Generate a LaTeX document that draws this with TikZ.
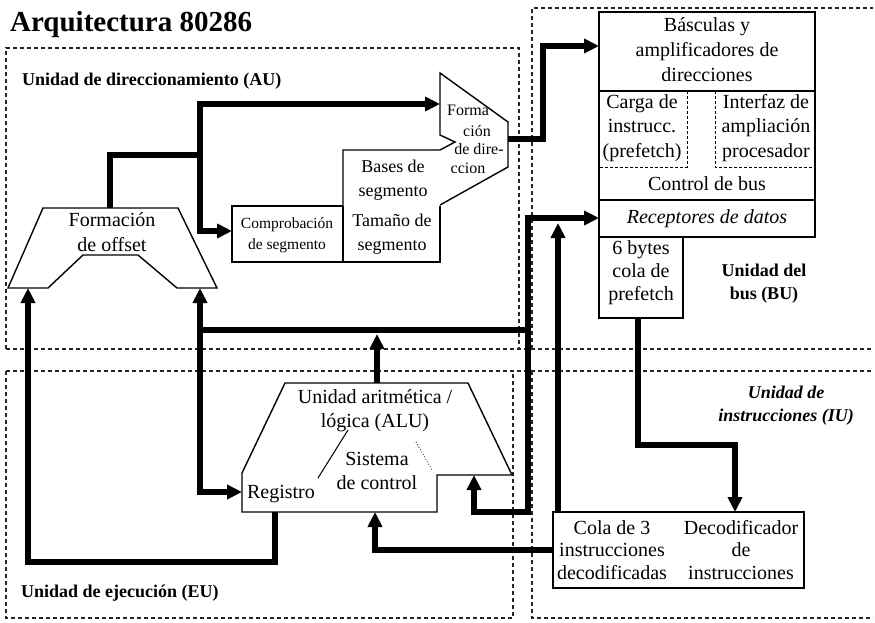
\documentclass[tikz,border=0pt]{standalone}
\usepackage{fontspec}
\setmainfont{Liberation Serif}
\usetikzlibrary{arrows.meta}
\begin{document}
\begin{tikzpicture}[x=1pt,y=-1pt,
  bus/.style={line width=5.5pt, line join=miter},
  tip/.style={-{Triangle[length=15pt,width=14pt]}},
  frame/.style={line width=1.1pt, dash pattern=on 4pt off 3pt, black!85},
  box/.style={line width=1.4pt},
  inner/.style={line width=1pt, dash pattern=on 3pt off 2pt},
  t20/.style={font=\fontsize{20}{25}\selectfont, align=center, inner sep=0pt},
  t18/.style={font=\fontsize{18}{24}\selectfont, align=center, inner sep=0pt},
  t16/.style={font=\fontsize{16}{19}\selectfont, align=center, inner sep=0pt},
  lbl/.style={font=\fontsize{18}{23}\selectfont\bfseries, align=center, inner sep=0pt}]
\useasboundingbox (0,0) rectangle (875,623);
\fill[white] (0,0) rectangle (875,623);

% ---- unit frames (dashed)
\draw[frame] (6,349) -- (6,48) -- (519,48) -- (519,349);
\draw[frame] (6,349) -- (873,349);
\draw[frame] (6,371) -- (873,371);
\draw[frame] (532,349) -- (532,8) -- (873,8);
\draw[frame] (6,371) -- (6,618) -- (513,618) -- (513,371);
\draw[frame] (532,371) -- (532,618) -- (873,618);

% ---- title and unit labels
\node[anchor=base west, inner sep=0pt, font=\fontsize{29}{34}\selectfont\bfseries] (title) at (10,32) {Arquitectura 80286};
\node[lbl, anchor=base west] (auL) at (22,86) {Unidad de direccionamiento (AU)};
\node[lbl, anchor=base west] (euL) at (21,597) {Unidad de ejecución (EU)};
\node[lbl] (buL) at (764,284) {Unidad del\\bus (BU)};
\node[lbl, font=\fontsize{18}{23}\selectfont\bfseries\itshape] (iuL) at (786,406) {Unidad de\\instrucciones (IU)};

% ---- Formacion de offset
\draw[box, fill=white] (43,208) -- (178,208) -- (217,288) -- (177,288) -- (138,255)
  -- (83,255) -- (48,288) -- (8,288) -- cycle;
\node[t20] (offT) at (112,232) {Formación\\de offset};

% ---- Formacion de direccion + bases de segmento
\fill[white] (343,205) -- (343,150) -- (440,150) -- (455,142) -- (440,135) -- (440,73)
  -- (508,122) -- (508,167) -- (440,205) -- cycle;
\draw[box] (343,262) -- (343,150) -- (440,150) -- (455,142) -- (440,135) -- (440,73)
  -- (508,122) -- (508,167) -- (440,205);
\draw[inner] (343,206) -- (440,206);
\draw[box, fill=white] (343,206) -- (232,206) -- (232,262) -- (440,262) -- (440,206);
\draw[box] (343,206) -- (343,262);
\node[t16] (dirA) at (468,110) {Forma};
\node[t16] (dirB) at (477,131) {ción};
\node[t16] (dirC) at (479,149) {de dire-};
\node[t16] (dirD) at (468,168) {ccion};
\node[t18] (basT) at (393,180) {Bases de\\segmento};
\node[t18] (tamT) at (392,234) {Tamaño de\\segmento};
\node[font=\fontsize{15.5}{21}\selectfont, align=center, inner sep=0pt] (comT) at (287,235) {Comprobación\\de segmento};

% ---- Bus unit
\draw[box, fill=white] (599,12) rectangle (815,237);
\draw[box] (599,91) -- (815,91);
\draw[line width=2pt] (599,200) -- (815,200);
\draw[inner] (687,91) -- (687,167) -- (599,167);
\draw[inner] (715,91) -- (715,167) -- (815,167);
\draw[box, fill=white] (599,237) rectangle (683,318);
\node[t20] (basc) at (707,50) {Básculas y\\amplificadores de\\direcciones};
\node[t20, font=\fontsize{20}{24.5}\selectfont] (carga) at (642,128) {Carga de\\instrucc.\\(prefetch)};
\node[t20, font=\fontsize{20}{24.5}\selectfont] (intf) at (766,128) {Interfaz de\\ampliación\\procesador};
\node[t20] (ctrl) at (707,184) {Control de bus};
\node[t20, font=\fontsize{20}{25}\selectfont\itshape] (recep) at (707,219) {Receptores de datos};
\node[t20, font=\fontsize{20}{23}\selectfont] (pref) at (641,273) {6 bytes\\cola de\\prefetch};

% ---- Instruction unit box
\draw[box, fill=white] (553,512) rectangle (804,588);
\node[t20, font=\fontsize{20}{22.5}\selectfont] (cola) at (612,550) {Cola de 3\\instrucciones\\decodificadas};
\node[t20, font=\fontsize{20}{22.5}\selectfont] (deco) at (741,550) {Decodificador\\de\\instrucciones};

% ---- ALU
\draw[box, fill=white] (285,383) -- (468,383) -- (512,475) -- (437,475) -- (437,512)
  -- (242,512) -- (242,473) -- cycle;
\draw[line width=1pt] (318,478) -- (348,430);
\draw[line width=0.8pt, dotted] (416,442) -- (432,470);
\node[t20, font=\fontsize{20}{24}\selectfont] (alu) at (375,411) {Unidad aritmética /\\lógica (ALU)};
\node[t20, font=\fontsize{20}{24}\selectfont] (sis) at (377,471) {Sistema\\de control};
\node[t20] (reg) at (281,494) {Registro};

% ---- anchor points
\coordinate (offTop) at (110,208);
\coordinate (offB1) at (28,288);
\coordinate (offB2) at (200,288);
\coordinate (dirL) at (440,104);
\coordinate (dirR) at (508,139);
\coordinate (compL) at (232,231);
\coordinate (bascL) at (599,46);
\coordinate (recL) at (599,218);
\coordinate (pfB) at (638,318);
\coordinate (decT) at (735,512);
\coordinate (colaT) at (558,512);
\coordinate (colaL) at (553,550);
\coordinate (aluT) at (377,383);
\coordinate (aluB) at (375,512);
\coordinate (aluN) at (474,475);
\coordinate (regW) at (242,492);
\coordinate (regB) at (275,512);
\coordinate (j1) at (528,330);
\coordinate (j2) at (200,330);
\coordinate (j3) at (200,155);

% ---- connectors
\draw[bus] (offTop) |- (j3);
\draw[bus,tip] (j3) |- (dirL);
\draw[bus,tip] (j3) |- (compL);
\draw[bus,tip] (dirR) -- ++(35,0) |- (bascL);
\draw[bus,tip] (j1) |- (recL);
\draw[bus,tip] (j1) -- ++(0,182) -| (aluN);
\draw[bus] (j1) -- (j2);
\draw[bus,tip] (j2) -- (offB2);
\draw[bus,tip] (j2) |- (regW);
\draw[bus,tip] (aluT) -- ++(0,-49);
\draw[bus,tip] (colaT) -- ++(0,-289);
\draw[bus,tip] (pfB) -- ++(0,127) -| (decT);
\draw[bus,tip] (colaL) -| (aluB);
\draw[bus,tip] (regB) -- ++(0,50) -| (offB1);
\end{tikzpicture}
\end{document}
